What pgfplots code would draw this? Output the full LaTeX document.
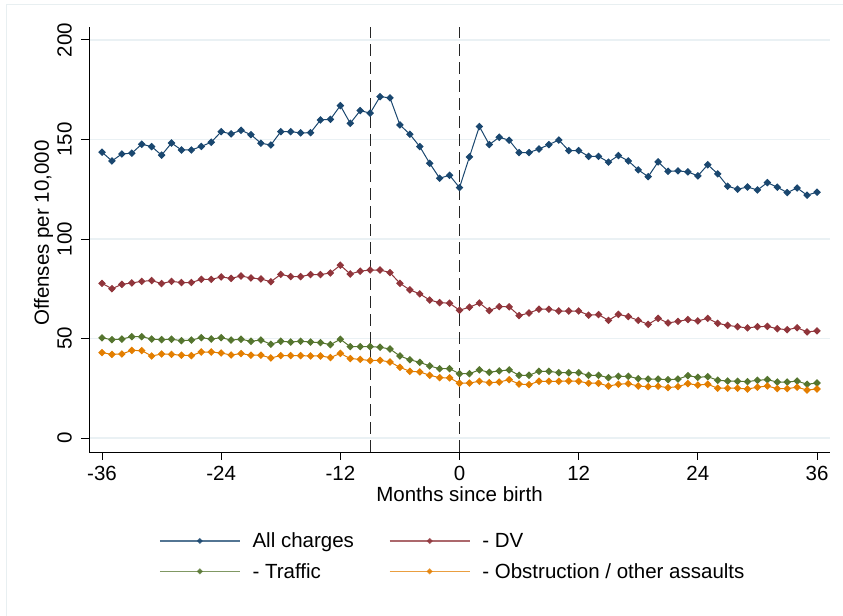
\documentclass[border=0pt]{standalone}
\usepackage{pgfplots}
\pgfplotsset{compat=1.18}
\usepackage{pgfplotstable}
\usepackage{fontspec}
\setmainfont{Liberation Sans}
\definecolor{cnavy}{RGB}{26,71,111}
\definecolor{cmaroon}{RGB}{144,53,59}
\definecolor{cgreen}{RGB}{85,117,47}
\definecolor{corange}{RGB}{227,126,0}
\definecolor{gridc}{RGB}{234,241,244}
\definecolor{framec}{RGB}{232,239,241}
\pgfplotstableread{
m all dv traffic obs
-36 143.6 77.7 50.3 42.9
-35 139.2 75.0 49.4 42.0
-34 142.7 77.2 49.7 42.2
-33 143.1 77.9 50.9 44.0
-32 147.6 78.7 50.9 43.9
-31 146.4 79.1 49.7 41.2
-30 142.1 77.6 49.4 42.2
-29 148.2 78.7 49.6 42.0
-28 144.7 78.1 48.9 41.6
-27 144.7 78.1 49.2 41.4
-26 146.5 79.7 50.4 43.2
-25 148.6 79.7 49.7 43.2
-24 153.9 80.9 50.4 42.7
-23 152.8 80.2 49.2 41.7
-22 154.6 81.4 49.6 42.4
-21 152.4 80.4 48.6 41.6
-20 148.1 79.9 49.2 41.6
-19 147.2 78.5 47.1 40.2
-18 153.9 82.2 48.6 41.4
-17 153.9 81.1 48.2 41.4
-16 153.3 81.1 48.6 41.4
-15 153.4 82.1 48.2 41.2
-14 159.8 82.1 47.9 41.2
-13 160.1 82.9 46.9 40.4
-12 167.0 86.8 49.6 42.5
-11 158.1 82.4 45.9 39.9
-10 164.5 83.8 45.9 39.5
-9 163.2 84.4 45.9 38.9
-8 171.5 84.4 45.6 39.0
-7 170.9 83.1 44.7 38.2
-6 157.3 77.7 41.2 35.5
-5 152.6 74.4 39.3 33.5
-4 146.4 72.4 38.0 33.2
-3 138.0 69.3 36.2 31.5
-2 130.5 68.0 34.8 30.3
-1 132.0 67.7 34.8 30.2
0 125.8 64.2 32.3 27.5
1 141.2 65.7 32.3 27.6
2 156.5 67.8 34.2 28.5
3 147.4 64.0 33.0 27.8
4 151.1 66.0 33.7 28.1
5 149.6 65.9 34.2 29.3
6 143.4 61.5 31.5 27.1
7 143.4 62.8 31.5 26.8
8 145.2 64.7 33.5 28.5
9 147.4 64.7 33.5 28.5
10 149.7 63.8 32.8 28.5
11 144.4 63.8 32.8 28.6
12 144.4 63.8 32.8 28.5
13 141.5 61.7 31.5 27.5
14 141.5 62.0 31.5 27.5
15 138.6 59.1 30.3 26.1
16 141.9 62.1 31.0 27.0
17 139.2 61.0 31.0 27.3
18 134.7 59.1 29.8 26.1
19 131.3 57.1 29.6 25.8
20 138.7 60.1 29.6 26.0
21 134.0 57.8 29.3 25.3
22 134.2 58.6 29.6 25.8
23 133.7 59.5 31.3 27.3
24 131.7 58.8 30.5 26.6
25 137.3 60.1 30.8 27.0
26 132.7 57.6 29.0 25.0
27 126.5 56.6 28.6 25.0
28 125.0 55.9 28.5 25.0
29 126.1 55.3 28.3 24.6
30 124.6 55.9 29.0 25.5
31 128.3 56.1 29.3 26.1
32 126.0 54.9 28.1 24.8
33 123.3 54.4 28.1 24.8
34 125.6 55.4 28.6 25.5
35 122.0 53.3 27.0 24.1
36 123.5 53.8 27.6 24.6
}\datatable
\begin{document}
\begin{tikzpicture}[x=1bp,y=1bp,font=\fontsize{20.5bp}{24bp}\selectfont]
\useasboundingbox (0,0) rectangle (843,616);
\draw[framec, line width=1bp] (6,0) -- (6,611) -- (843,611);
\begin{axis}[
  at={(89bp,164bp)}, anchor=south west,
  scale only axis, width=741bp, height=425bp,
  xmin=-37.31, xmax=37.31, ymin=-7.04, ymax=206.5,
  axis x line*=bottom, axis y line*=left,
  axis line style={-, black, line width=0.9bp},
  tick align=outside, major tick length=8bp,
  tick style={black, line width=0.9bp},
  xtick={-36,-24,...,36}, ytick={0,50,...,200},
  ymajorgrids, grid style={gridc, line width=1.3bp},
  /pgf/number format/assume math mode=true,
  ticklabel style={font=\fontsize{20.5bp}{24bp}\selectfont, inner sep=0pt},
  xticklabel shift=5.5bp,
  yticklabel style={rotate=90, anchor=south},
  yticklabel shift=9bp,
  xlabel={Months since birth},
  ylabel={Offenses per 10,000},
  xlabel style={at={(axis description cs:0.5,-0.1176)}, anchor=base, inner sep=0pt},
  ylabel style={at={(axis description cs:-0.054,0.515)}, anchor=base, rotate=0, inner sep=0pt},
  every axis plot/.append style={line width=1bp, mark=square*, mark size=2.2bp, mark options={rotate=45, solid}},
  legend columns=2,
  legend cell align=left,
  legend style={at={(0.0904,-0.185)}, anchor=north west, draw=none, fill=none,
    font=\fontsize{20.5bp}{24bp}\selectfont,
    row sep=14bp,
    /tikz/every odd column/.append style={column sep=12bp},
    /tikz/every even column/.append style={column sep=35bp},
    nodes={inner sep=0pt}},
  legend image code/.code={\draw[mark repeat=2, mark phase=2, mark size=1.5bp, line width=1.4bp, opacity=0.75] plot coordinates {(0bp,0bp) (40bp,0bp) (80bp,0bp)};},
]
\addplot[cnavy] table[x=m, y=all] {\datatable};
\addlegendentry{All charges}
\addplot[cmaroon] table[x=m, y=dv] {\datatable};
\addlegendentry{- DV}
\addplot[cgreen] table[x=m, y=traffic] {\datatable};
\addlegendentry{- Traffic}
\addplot[corange] table[x=m, y=obs] {\datatable};
\addlegendentry{- Obstruction / other assaults}
\addplot[black!85, no marks, line width=1.25bp, dash pattern=on 12bp off 6bp, forget plot] coordinates {(-9,-7.04) (-9,206.5)};
\addplot[black!85, no marks, line width=1.25bp, dash pattern=on 12bp off 6bp, forget plot] coordinates {(0,-7.04) (0,206.5)};
\end{axis}
\end{tikzpicture}
\end{document}
